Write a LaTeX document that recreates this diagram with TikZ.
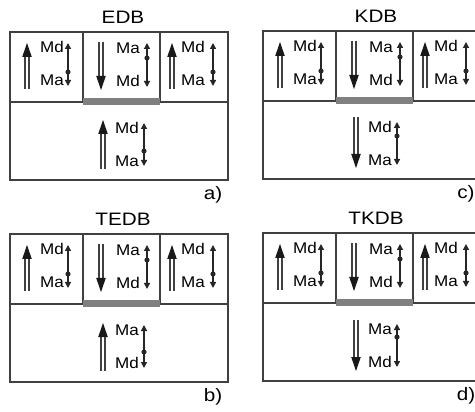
\documentclass[tikz,border=0pt]{standalone}
\usepackage{fontspec}
\setmainfont{Liberation Sans}
\usetikzlibrary{arrows.meta}

\tikzset{
  frame/.style={draw=black!75, line width=1.3pt},
  bar/.style={draw=black!50, line width=7pt},
  lbl/.style={inner sep=0pt, text=black, xscale=1.1, font=\fontsize{15.5}{15.5}\selectfont},
  ttl/.style={inner sep=0pt, text=black, xscale=1.15, font=\fontsize{18}{18}\selectfont},
  flux/.style={draw=black!75, line width=1.15pt},
  fluxhead/.style={fill=black!90},
  moment/.style={draw=black!85, line width=1.3pt,
    {Triangle[width=6pt,length=6pt]}-{Triangle[width=6pt,length=6pt]}},
}

% hollow-shaft arrow: x, tail y, tip y
\newcommand\fluxarrow[3]{%
  \pgfmathsetmacro\fdir{(#3>#2)?1:-1}%
  \draw[flux] (#1-2,#2) -- (#1-2,#3-\fdir*11);
  \draw[flux] (#1+2,#2) -- (#1+2,#3-\fdir*11);
  \fill[fluxhead] (#1,#3) -- (#1-4.8,#3-\fdir*14) -- (#1+4.8,#3-\fdir*14) -- cycle;
}

% double-headed arrow with a dot: x, top y, bottom y, dot y
\newcommand\momentarrow[4]{%
  \draw[moment] (#1,#2) -- (#1,#3);
  \fill[black!85] (#1,#4) circle (2.6pt);
}

% one panel: x, y, title, label, bottom tail y, bottom tip y,
% bottom upper text, bottom lower text, bottom dot y
\newcommand\panel[9]{%
\begin{scope}[shift={(#1,#2)}, name prefix=#3-]
  \draw[frame] (0,0) rectangle (218,148);
  \draw[frame] (0,70) -- (218,70);
  \draw[frame] (73,0) -- (73,70);
  \draw[frame] (150,0) -- (150,70);
  \draw[bar] (73,70) -- (150,70);
  \node[ttl] (title) at (113,-15) {#3};
  \node[ttl] (label) at (203,163) {#4};
  % left cell
  \fluxarrow{17}{57}{11}
  \node[lbl] (l-up) at (42,15) {Md};
  \node[lbl] (l-dn) at (42,48) {Ma};
  \momentarrow{58}{11}{54}{40}
  % middle cell
  \fluxarrow{91}{10}{58}
  \node[lbl] (m-up) at (118,16) {Ma};
  \node[lbl] (m-dn) at (118,49) {Md};
  \momentarrow{137}{11}{55}{26}
  % right cell
  \fluxarrow{162}{57}{11}
  \node[lbl] (r-up) at (183,15) {Md};
  \node[lbl] (r-dn) at (183,48) {Ma};
  \momentarrow{203}{11}{54}{40}
  % lower cell
  \fluxarrow{93}{#5}{#6}
  \node[lbl] (b-up) at (117,96) {#7};
  \node[lbl] (b-dn) at (117,129) {#8};
  \momentarrow{134}{91}{134}{#9}
\end{scope}}

\begin{document}
\begin{tikzpicture}[x=1pt, y=-1pt]
  \useasboundingbox[fill=white] (0,0) rectangle (475,412);
  \panel{10}{32}{EDB}{a)}{137}{88}{Md}{Ma}{119}
  \panel{10}{234}{TEDB}{b)}{137}{89}{Ma}{Md}{118}
  \panel{263}{31}{KDB}{c)}{86}{137}{Md}{Ma}{105}
  \panel{263}{233}{TKDB}{d)}{87}{138}{Ma}{Md}{104}
\end{tikzpicture}
\end{document}
